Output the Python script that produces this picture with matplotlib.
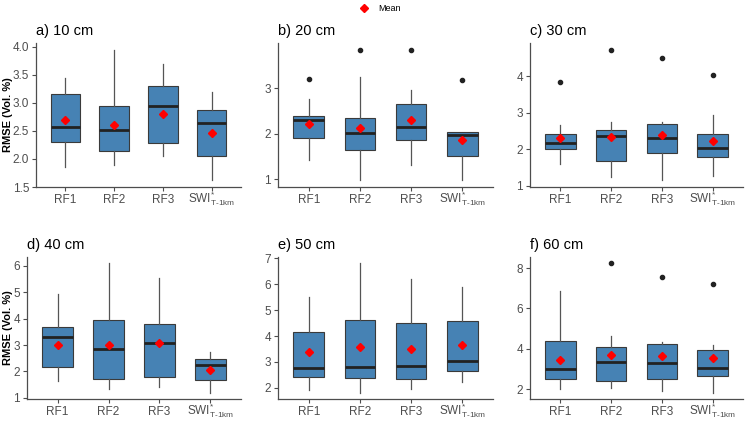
import matplotlib
matplotlib.use('Agg')
import matplotlib.pyplot as plt
from matplotlib.lines import Line2D

plt.rcParams['font.family'] = ['Liberation Sans', 'DejaVu Sans']
plt.rcParams['mathtext.fontset'] = 'custom'
plt.rcParams['mathtext.rm'] = 'Liberation Sans'
plt.rcParams['mathtext.it'] = 'Liberation Sans'

# ---------------------------------------------------------------------
# Data (RMSE, Vol. %), one row per depth, one column per model
panel_titles = ['a) 10 cm', 'b) 20 cm', 'c) 30 cm', 'd) 40 cm', 'e) 50 cm', 'f) 60 cm']
categories = ['RF1', 'RF2', 'RF3', r'SWI$^{*}_{\mathrm{T\text{-}1km}}$']

whisk_lo = [[1.86, 1.90, 2.06, 1.62],
            [1.41, 0.97, 1.32, 0.99],
            [1.60, 1.24, 1.14, 1.25],
            [1.64, 1.34, 1.40, 1.20],
            [1.91, 1.82, 1.96, 2.24],
            [2.00, 2.08, 1.92, 1.83]]
q1 = [[2.31, 2.15, 2.29, 2.06],
      [1.91, 1.64, 1.86, 1.50],
      [2.00, 1.68, 1.89, 1.79],
      [2.16, 1.72, 1.80, 1.66],
      [2.41, 2.37, 2.34, 2.65],
      [2.52, 2.42, 2.49, 2.63]]
medians = [[2.57, 2.52, 2.94, 2.64],
           [2.30, 2.01, 2.14, 1.96],
           [2.17, 2.36, 2.32, 2.02],
           [3.32, 2.85, 3.06, 2.26],
           [2.75, 2.81, 2.85, 3.02],
           [2.99, 3.35, 3.30, 3.03]]
q3 = [[3.16, 2.95, 3.30, 2.88],
      [2.38, 2.35, 2.65, 2.04],
      [2.43, 2.53, 2.68, 2.43],
      [3.67, 3.96, 3.80, 2.47],
      [4.16, 4.62, 4.50, 4.58],
      [4.39, 4.08, 4.23, 3.94]]
whisk_hi = [[3.45, 3.95, 3.69, 3.19],
            [2.76, 3.25, 2.97, 2.04],
            [2.66, 2.74, 2.76, 2.94],
            [4.94, 6.09, 5.55, 2.72],
            [5.50, 6.80, 6.21, 5.89],
            [6.86, 4.61, 4.35, 4.18]]
means = [[2.70, 2.61, 2.80, 2.47],
         [2.22, 2.12, 2.29, 1.86],
         [2.32, 2.33, 2.39, 2.23],
         [3.00, 3.01, 3.06, 2.06],
         [3.37, 3.56, 3.49, 3.65],
         [3.43, 3.69, 3.62, 3.52]]
outliers = [[[], [], [], []],
            [[3.21], [3.85], [3.85], [3.18]],
            [[3.85], [4.74], [4.51], [4.03]],
            [[], [], [], []],
            [[], [], [], []],
            [[], [8.23], [7.54], [7.20]]]
y_ticks = [[1.5, 2.0, 2.5, 3.0, 3.5, 4.0],
           [1, 2, 3],
           [1, 2, 3, 4],
           [1, 2, 3, 4, 5, 6],
           [2, 3, 4, 5, 6, 7],
           [2, 4, 6, 8]]
tick_fmt = ['{:.1f}', '{:g}', '{:g}', '{:g}', '{:g}', '{:g}']

# ---------------------------------------------------------------------
W, H = 746, 423
fig = plt.figure(figsize=(W / 100, H / 100), dpi=100)

# panel boxes in pixels: left, top, right, bottom
panel_px = [(36, 43, 241, 187), (278, 43, 493, 187), (530, 43, 743, 187),
            (27, 257, 241, 399), (278, 257, 493, 399), (530, 257, 743, 399)]

grey = '#4D4D4D'
for i, (x0, y0, x1, y1) in enumerate(panel_px):
    ax = fig.add_axes([x0 / W, 1 - y1 / H, (x1 - x0) / W, (y1 - y0) / H])

    stats = []
    for j in range(len(categories)):
        stats.append({
            'med': medians[i][j], 'q1': q1[i][j], 'q3': q3[i][j],
            'whislo': whisk_lo[i][j], 'whishi': whisk_hi[i][j],
            'mean': means[i][j], 'fliers': outliers[i][j],
        })
    ax.bxp(stats, positions=range(1, 5), widths=0.6, patch_artist=True,
           showcaps=False, showmeans=True,
           boxprops=dict(facecolor='#4682B4', edgecolor='#3a3a3a', linewidth=0.8),
           medianprops=dict(color='#222222', linewidth=2),
           whiskerprops=dict(color='#555555', linewidth=0.9),
           flierprops=dict(marker='o', markerfacecolor='#222222', markeredgecolor='#222222',
                           markersize=3),
           meanprops=dict(marker='D', markerfacecolor='red', markeredgecolor='red',
                          markersize=4.5))

    # ggplot-like 5% expansion around the data
    lo = min(min(whisk_lo[i]), min(sum(outliers[i], [whisk_lo[i][0]])))
    hi = max(max(whisk_hi[i]), max(sum(outliers[i], [whisk_hi[i][0]])))
    pad = (hi - lo) * 0.05
    ax.set_ylim(lo - pad, hi + pad)
    ax.set_xlim(0.4, 4.6)

    ax.set_yticks(y_ticks[i])
    ax.set_yticklabels([tick_fmt[i].format(v) for v in y_ticks[i]])
    ax.set_xticks(range(1, 5))
    ax.set_xticklabels(categories)
    ax.tick_params(colors=grey, labelsize=8.5, length=3, width=0.8, pad=2)
    # x labels sit on a common baseline so the SWI sub/superscripts don't shift it
    ax.tick_params(axis='x', pad=8.5)
    for lbl in ax.get_xticklabels():
        lbl.set_va('baseline')
    for s in ['top', 'right']:
        ax.spines[s].set_visible(False)
    for s in ['left', 'bottom']:
        ax.spines[s].set_color(grey)
        ax.spines[s].set_linewidth(0.9)

    ax.set_title(panel_titles[i], loc='left', fontsize=10.5, pad=6)
    if i % 3 == 0:
        ax.set_ylabel('RMSE (Vol. %)', fontsize=8, fontweight='bold', va='center')
        ax.yaxis.set_label_coords((8 - x0) / (x1 - x0), 0.5)

# legend for the mean marker
mean_handle = Line2D([], [], linestyle='none', marker='D', color='red', markersize=4.5)
fig.legend([mean_handle], ['Mean'], loc='upper center', bbox_to_anchor=(0.507, 1.01),
           frameon=False, fontsize=6.5, handletextpad=0.6)

fig.savefig('out.png', dpi=100)
